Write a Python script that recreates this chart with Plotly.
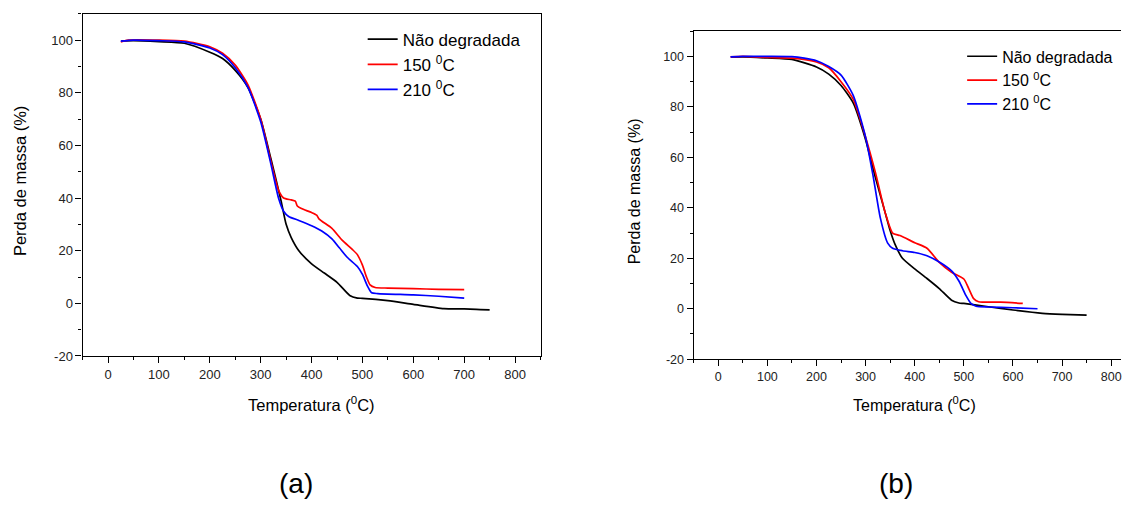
import plotly.graph_objects as go

# ---------------- data ----------------
# Panel (a)
a_black_T = [26, 50, 100, 150, 200, 225, 250, 275, 300, 320, 340, 350, 360, 375, 400, 425, 450, 475, 490, 500, 550, 600, 660, 700, 750]
a_black_v = [99.7, 99.8, 99.4, 98.8, 95.4, 93.0, 88.5, 82.0, 70.0, 55.0, 39.0, 30.0, 25.0, 20.0, 15.0, 11.5, 8.0, 3.0, 2.0, 1.9, 1.0, -0.4, -2.0, -2.1, -2.5]

a_red_T = [25, 40, 100, 150, 200, 225, 250, 275, 300, 320, 335, 345, 360, 368, 372, 380, 400, 410, 415, 440, 460, 480, 490, 500, 508, 515, 525, 550, 600, 650, 700]
a_red_v = [99.3, 100.0, 100.0, 99.6, 97.5, 95.0, 90.5, 83.0, 70.0, 54.0, 43.0, 40.0, 39.3, 38.8, 37.0, 36.0, 34.5, 33.5, 32.0, 28.5, 24.0, 20.5, 18.5, 14.5, 10.0, 7.0, 6.0, 5.8, 5.6, 5.3, 5.2]

a_blue_T = [25, 50, 100, 150, 200, 225, 250, 275, 300, 320, 335, 345, 355, 375, 400, 420, 440, 455, 470, 490, 500, 510, 518, 530, 600, 650, 700]
a_blue_v = [99.6, 100.0, 99.8, 99.3, 97.0, 94.5, 89.5, 82.0, 69.0, 53.0, 40.0, 35.0, 33.0, 31.5, 29.5, 27.5, 24.5, 21.0, 17.5, 14.0, 11.0, 6.5, 4.0, 3.7, 3.2, 2.7, 2.0]

# Panel (b)
b_black_T = [26, 50, 100, 150, 200, 225, 250, 275, 300, 320, 340, 350, 360, 375, 400, 425, 450, 475, 490, 500, 550, 600, 660, 700, 750]
b_black_v = [99.7, 99.8, 99.4, 98.8, 95.8, 93.0, 88.5, 81.5, 67.0, 52.0, 38.0, 31.0, 25.5, 20.0, 15.8, 12.0, 8.0, 3.4, 2.3, 2.1, 0.8, -0.5, -1.8, -2.2, -2.5]

b_red_T = [25, 50, 100, 150, 200, 225, 250, 275, 300, 320, 340, 355, 370, 400, 425, 450, 475, 500, 510, 520, 530, 575, 620]
b_red_v = [99.8, 100.0, 99.6, 99.3, 97.8, 95.5, 90.0, 83.0, 68.0, 54.0, 38.0, 30.0, 29.0, 26.2, 24.0, 18.4, 14.5, 11.8, 8.0, 4.0, 2.8, 2.6, 2.1]

b_blue_T = [25, 50, 100, 150, 175, 200, 225, 250, 275, 300, 315, 330, 345, 355, 375, 400, 425, 450, 475, 490, 505, 515, 525, 550, 600, 650]
b_blue_v = [99.8, 100.0, 100.0, 99.9, 99.3, 98.3, 96.0, 92.6, 84.5, 68.0, 53.0, 36.0, 26.0, 24.0, 23.0, 22.3, 21.0, 18.5, 15.0, 11.0, 5.0, 2.0, 1.0, 0.7, 0.4, 0.0]

series_names = ["Não degradada", "150 <sup>0</sup>C", "210 <sup>0</sup>C"]
series_colors = ["#000000", "#ff0000", "#0000ff"]

x_ticks = [0, 100, 200, 300, 400, 500, 600, 700, 800]
x_tick_labels = ["0", "100", "200", "300", "400", "500", "600", "700", "800"]
y_ticks = [-20, 0, 20, 40, 60, 80, 100]
y_tick_labels = ["-20", "0", "20", "40", "60", "80", "100"]

x_title = "Temperatura (<sup>0</sup>C)"
y_title = "Perda de massa (%)"
panel_labels = ["(a)", "(b)"]

# ---------------- figure ----------------
W, H = 1122, 506
FONT = "Liberation Sans, Arial, Helvetica, sans-serif"

fig = go.Figure()

panels = [
    ([a_black_T, a_red_T, a_blue_T], [a_black_v, a_red_v, a_blue_v], "x", "y", "legend"),
    ([b_black_T, b_red_T, b_blue_T], [b_black_v, b_red_v, b_blue_v], "x2", "y2", "legend2"),
]
for Ts, Vs, xa, ya, lg in panels:
    for name, col, T, V in zip(series_names, series_colors, Ts, Vs):
        fig.add_trace(go.Scatter(
            x=T, y=V, mode="lines", name=name,
            line=dict(color=col, width=1.7, shape="spline", smoothing=0.6),
            xaxis=xa, yaxis=ya, legend=lg, showlegend=True,
        ))

def px_x(p):
    return p / W

def px_y(p):
    return 1 - p / H

def axis_common(tick_size):
    return dict(
        showgrid=False, zeroline=False, showline=True,
        linecolor="#000000", linewidth=1.3,
        ticks="outside", ticklen=6, tickwidth=1.2, tickcolor="#000000",
        tickfont=dict(family=FONT, size=tick_size, color="#222222"),
        ticklabeloverflow="allow",
    )

# left panel
xa1 = axis_common(13)
xa1.update(domain=[px_x(82.7), px_x(541)], range=[-50, 850],
           tickvals=x_ticks, ticktext=x_tick_labels,
           mirror=True, anchor="y",
           minor=dict(ticks="outside", ticklen=3, tickcolor="#000000", dtick=50, tick0=0))
ya1 = axis_common(13)
ya1.update(domain=[px_y(361.7), px_y(14)], range=[-20, 110],
           tickvals=y_ticks, ticktext=y_tick_labels,
           mirror=True, anchor="x",
           minor=dict(ticks="outside", ticklen=3, tickcolor="#000000", dtick=10, tick0=0))

# right panel (cut off at the right edge of the picture)
xa2 = axis_common(12.5)
xa2.update(domain=[px_x(694.3), 1.0], range=[-50, 820],
           tickvals=x_ticks, ticktext=x_tick_labels,
           mirror=True, anchor="y2",
           minor=dict(ticks="outside", ticklen=3, tickcolor="#000000", dtick=50, tick0=0))
ya2 = axis_common(12.5)
ya2.update(domain=[px_y(365), px_y(31.7)], range=[-20, 110],
           tickvals=y_ticks, ticktext=y_tick_labels,
           mirror=False, anchor="x2",
           minor=dict(ticks="outside", ticklen=3, tickcolor="#000000", dtick=10, tick0=0))

fig.update_layout(
    width=W, height=H,
    margin=dict(l=0, r=0, t=0, b=0),
    paper_bgcolor="white", plot_bgcolor="white",
    font=dict(family=FONT, color="#000000"),
    xaxis=xa1, yaxis=ya1, xaxis2=xa2, yaxis2=ya2,
    legend=dict(x=px_x(363), y=px_y(22), xanchor="left", yanchor="top",
                bgcolor="rgba(0,0,0,0)", borderwidth=0,
                font=dict(family=FONT, size=17, color="#000000"),
                tracegroupgap=0, itemwidth=30),
    legend2=dict(x=px_x(963), y=px_y(40), xanchor="left", yanchor="top",
                 bgcolor="rgba(0,0,0,0)", borderwidth=0,
                 font=dict(family=FONT, size=16, color="#000000"),
                 tracegroupgap=0, itemwidth=30),
)

annots = [
    dict(text=y_title, x=px_x(20), y=px_y(184), textangle=-90, size=16.5),
    dict(text=y_title, x=px_x(635), y=px_y(194), textangle=-90, size=16),
    dict(text=x_title, x=px_x(312), y=px_y(410), textangle=0, size=16.5),
    dict(text=x_title, x=px_x(915), y=px_y(410), textangle=0, size=16),
    dict(text=panel_labels[0], x=px_x(296), y=px_y(491), textangle=0, size=28),
    dict(text=panel_labels[1], x=px_x(897), y=px_y(491), textangle=0, size=28),
]
for a in annots:
    fig.add_annotation(text=a["text"], x=a["x"], y=a["y"], xref="paper", yref="paper",
                       xanchor="center", yanchor="middle", showarrow=False,
                       textangle=a["textangle"],
                       font=dict(family=FONT, size=a["size"], color="#000000"))

fig.write_html("out.html", config={"displayModeBar": False},
               post_script="document.body.style.margin='0';document.body.style.overflow='hidden';")
